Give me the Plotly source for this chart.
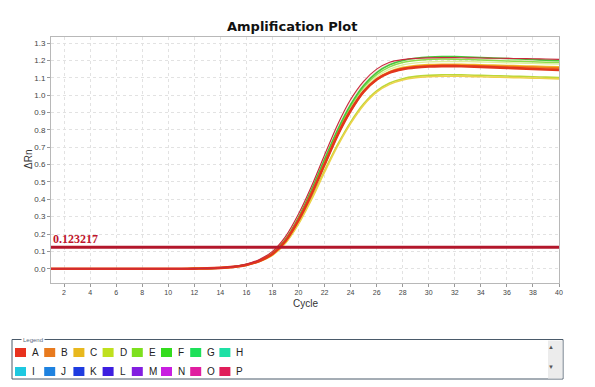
import plotly.graph_objects as go

cycles = list(range(1, 41))
threshold = 0.123217

z11 = [0.000] * 11

curve_names = ["E pale", "D low", "C low", "G pale", "E", "F", "C", "B", "A", "A top"]
series = {
    "C low": z11 + [0.001, 0.002, 0.005, 0.010, 0.021, 0.042, 0.078, 0.147, 0.257, 0.398, 0.556, 0.706, 0.836, 0.942, 1.017, 1.062, 1.087, 1.100, 1.106, 1.109, 1.109, 1.108, 1.106, 1.104, 1.102, 1.100, 1.098, 1.096, 1.094],
    "D low": z11 + [0.001, 0.002, 0.005, 0.010, 0.021, 0.043, 0.080, 0.150, 0.262, 0.405, 0.565, 0.715, 0.845, 0.950, 1.025, 1.070, 1.095, 1.108, 1.114, 1.117, 1.117, 1.116, 1.114, 1.112, 1.110, 1.108, 1.106, 1.104, 1.102],
    "G pale": z11 + [0.001, 0.002, 0.005, 0.011, 0.023, 0.046, 0.087, 0.164, 0.286, 0.442, 0.614, 0.782, 0.924, 1.033, 1.106, 1.150, 1.174, 1.186, 1.192, 1.194, 1.194, 1.193, 1.191, 1.189, 1.187, 1.185, 1.183, 1.181, 1.179],
    "E pale": z11 + [0.001, 0.002, 0.006, 0.013, 0.027, 0.053, 0.098, 0.182, 0.310, 0.470, 0.648, 0.822, 0.966, 1.070, 1.140, 1.180, 1.196, 1.203, 1.206, 1.207, 1.207, 1.206, 1.205, 1.204, 1.203, 1.202, 1.201, 1.200, 1.199],
    "E": z11 + [0.001, 0.002, 0.005, 0.012, 0.024, 0.047, 0.088, 0.166, 0.290, 0.448, 0.622, 0.792, 0.935, 1.045, 1.118, 1.163, 1.188, 1.200, 1.206, 1.208, 1.207, 1.205, 1.203, 1.200, 1.197, 1.195, 1.192, 1.190, 1.188],
    "F": z11 + [0.001, 0.002, 0.005, 0.012, 0.024, 0.048, 0.090, 0.170, 0.295, 0.455, 0.630, 0.800, 0.945, 1.055, 1.130, 1.175, 1.200, 1.213, 1.220, 1.223, 1.222, 1.220, 1.217, 1.214, 1.211, 1.208, 1.205, 1.202, 1.199],
    "C": z11 + [0.001, 0.002, 0.005, 0.011, 0.023, 0.046, 0.086, 0.162, 0.283, 0.436, 0.607, 0.775, 0.915, 1.023, 1.095, 1.137, 1.160, 1.171, 1.176, 1.178, 1.178, 1.177, 1.175, 1.173, 1.171, 1.169, 1.167, 1.165, 1.163],
    "B": z11 + [0.001, 0.002, 0.005, 0.011, 0.023, 0.046, 0.085, 0.161, 0.281, 0.433, 0.603, 0.772, 0.912, 1.020, 1.090, 1.132, 1.153, 1.164, 1.169, 1.171, 1.171, 1.170, 1.168, 1.166, 1.164, 1.162, 1.160, 1.158, 1.156],
    "A": z11 + [0.001, 0.002, 0.005, 0.011, 0.022, 0.045, 0.085, 0.160, 0.280, 0.430, 0.600, 0.770, 0.910, 1.020, 1.090, 1.130, 1.150, 1.160, 1.165, 1.167, 1.167, 1.165, 1.163, 1.160, 1.157, 1.154, 1.151, 1.148, 1.145],
    "A top": z11 + [0.001, 0.002, 0.006, 0.013, 0.027, 0.054, 0.100, 0.185, 0.315, 0.475, 0.655, 0.830, 0.975, 1.080, 1.150, 1.190, 1.205, 1.212, 1.215, 1.216, 1.216, 1.215, 1.214, 1.213, 1.212, 1.211, 1.210, 1.208, 1.206],
}
curve_colors = {
    "C low": "#ecd24a", "D low": "#bcd838", "G pale": "#dcef9c", "E pale": "#fbe3dc",
    "E": "#8edd4c", "F": "#46c63a", "C": "#f0bc2c", "B": "#f07a1e", "A": "#e2361c", "A top": "#c8283c",
}
curve_widths = {
    "C low": 1.6, "D low": 1.6, "G pale": 1.4, "E pale": 1.4, "E": 1.5, "F": 1.6,
    "C": 1.6, "B": 2.2, "A": 2.6, "A top": 1.1,
}

legend_labels = ["A", "B", "C", "D", "E", "F", "G", "H", "I", "J", "K", "L", "M", "N", "O", "P"]
legend_colors = ["#e8321e", "#e87a1e", "#e8b81e", "#bfe01e", "#7de01e", "#34dc1e", "#1ee05a", "#1ee0a5",
                 "#1ec8e0", "#1e82e0", "#1e3ce0", "#3c1ee0", "#821ee0", "#c81ee0", "#e01ea0", "#e01e5a"]

# page body has an 8px margin: figure is drawn at (8, 8) in the window
OFF = 8
W, H = 595 - OFF, 387 - OFF
PLOT_L, PLOT_R, PLOT_T, PLOT_B = 51, 559, 37, 283   # reference window pixels
L, T = PLOT_L - OFF, PLOT_T - OFF
R, B = W - (PLOT_R - OFF), H - (PLOT_B - OFF)
PW, PH = W - L - R, H - T - B


def px(x):
    return (x - OFF - L) / PW


def py(y):
    return (T + PH - (y - OFF)) / PH


fig = go.Figure()
for name in curve_names:
    fig.add_trace(go.Scatter(x=cycles, y=series[name], mode="lines",
                             line=dict(color=curve_colors[name], width=curve_widths[name], shape="spline", smoothing=0.8),
                             hoverinfo="skip", showlegend=False))
fig.add_trace(go.Scatter(x=[cycles[0], cycles[-1]], y=[threshold, threshold], mode="lines",
                         line=dict(color="#b3172b", width=3), hoverinfo="skip", showlegend=False))

annotations = [
    dict(text="<b>Amplification Plot</b>", x=px(292), y=py(26), xref="paper", yref="paper",
         showarrow=False, font=dict(family="DejaVu Sans", size=13, color="#111111"), xanchor="center", yanchor="middle"),
    dict(text="ΔRn", x=px(28), y=py(160), xref="paper", yref="paper", textangle=-90,
         showarrow=False, font=dict(family="Liberation Sans", size=10, color="#333333"), xanchor="center", yanchor="middle"),
    dict(text="Cycle", x=px(305), y=py(303), xref="paper", yref="paper",
         showarrow=False, font=dict(family="Liberation Sans", size=10, color="#333333"), xanchor="center", yanchor="middle"),
    dict(text="<b>%.6f</b>" % threshold, x=1, y=threshold, xref="x", yref="y", xanchor="left", yanchor="bottom",
         xshift=0, yshift=-1, showarrow=False, font=dict(family="Liberation Serif", size=12, color="#c0142c")),
    dict(text="Legend", x=px(21), y=py(339.5), xref="paper", yref="paper", xanchor="left", yanchor="middle",
         showarrow=False, font=dict(family="Liberation Sans", size=6, color="#5a6a80"), bgcolor="white"),
    dict(text="▲", x=px(555.5), y=py(353), xref="paper", yref="paper", showarrow=False,
         font=dict(size=6, color="#555555")),
    dict(text="▼", x=px(555.5), y=py(373), xref="paper", yref="paper", showarrow=False,
         font=dict(size=6, color="#555555")),
]

shapes = [
    dict(type="rect", xref="paper", yref="paper", x0=px(12), x1=px(563), y0=py(379), y1=py(339.5),
         line=dict(color="#4a5a6a", width=1), fillcolor="white", layer="below"),
    dict(type="rect", xref="paper", yref="paper", x0=px(548), x1=px(562.5), y0=py(378.5), y1=py(340.5),
         line=dict(width=0), fillcolor="#ececec"),
]

x0_leg, dx_leg = 15, 29.2
for i, (lab, col) in enumerate(zip(legend_labels, legend_colors)):
    row, colidx = divmod(i, 8)
    xl = x0_leg + colidx * dx_leg
    yc = 352.5 if row == 0 else 371.5
    shapes.append(dict(type="rect", xref="paper", yref="paper", x0=px(xl), x1=px(xl + 11),
                       y0=py(yc + 4.5), y1=py(yc - 4.5), line=dict(width=0), fillcolor=col))
    annotations.append(dict(text=lab, x=px(xl + 15), y=py(yc), xref="paper", yref="paper", xanchor="left",
                            yanchor="middle", showarrow=False,
                            font=dict(family="Liberation Sans", size=10, color="#222222")))

fig.update_layout(
    width=W, height=H, margin=dict(l=L, r=R, t=T, b=B),
    paper_bgcolor="white", plot_bgcolor="white",
    annotations=annotations, shapes=shapes,
    xaxis=dict(range=[1, 40], tickmode="array", tickvals=list(range(2, 41, 2)),
               showgrid=True, gridcolor="#e2e2e2", griddash="dot", gridwidth=1,
               showline=True, linecolor="#b8b8b8", mirror=True, zeroline=False,
               ticks="outside", ticklen=3, tickcolor="#999999",
               tickfont=dict(family="Liberation Sans", size=7, color="#444444")),
    yaxis=dict(range=[-0.082, 1.335], tickmode="array", tickvals=[i / 10 for i in range(14)],
               tickformat=".1f",
               showgrid=True, gridcolor="#e2e2e2", griddash="dot", gridwidth=1,
               showline=True, linecolor="#b8b8b8", mirror=True, zeroline=False,
               ticks="outside", ticklen=3, tickcolor="#999999",
               tickfont=dict(family="Liberation Sans", size=8, color="#444444")),
)

fig.write_html("out.html")
